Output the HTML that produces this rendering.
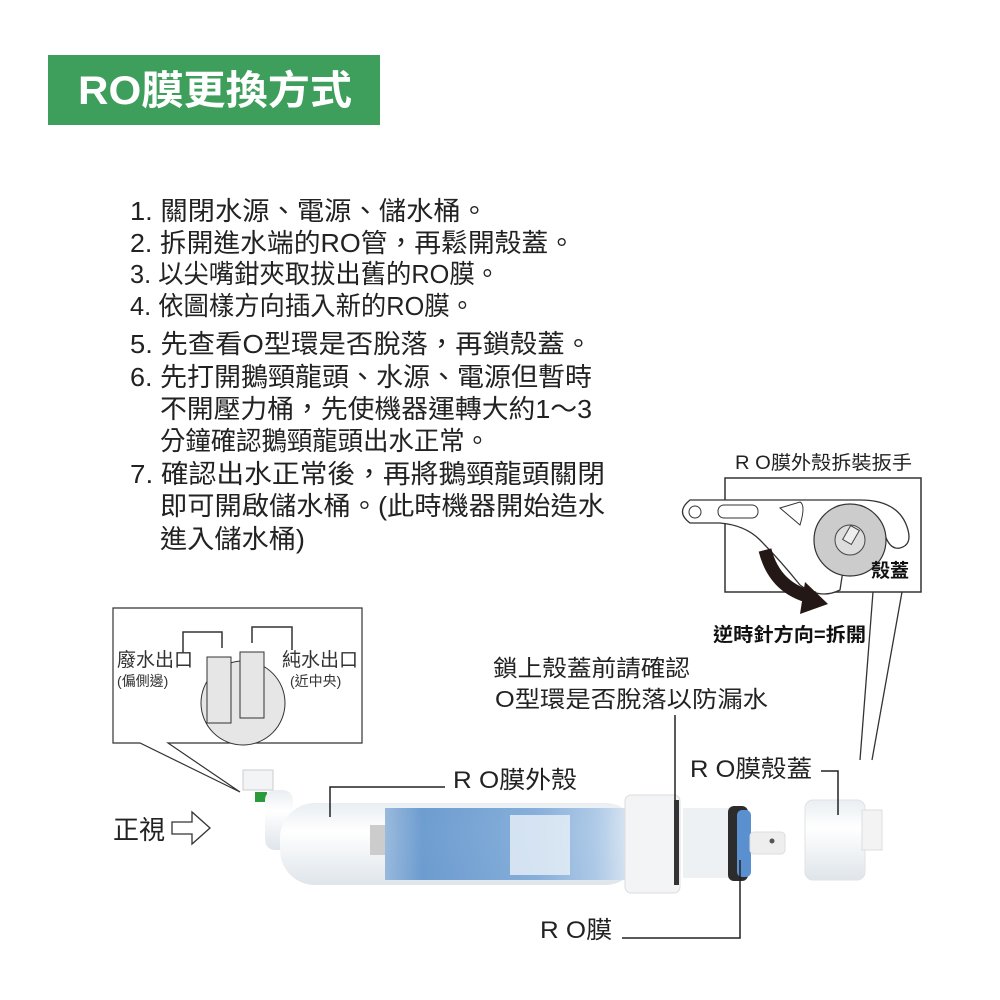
<!DOCTYPE html>
<html><head><meta charset="utf-8"><style>
body{margin:0;background:#fff;}
svg{display:block}
text{font-family:"Liberation Sans","Noto Sans CJK TC",sans-serif;}
</style></head><body>
<svg width="1000" height="1000" viewBox="0 0 1000 1000" xmlns="http://www.w3.org/2000/svg">
<defs>
<linearGradient id="tube" x1="0" y1="0" x2="0" y2="1">
<stop offset="0" stop-color="#e9eef2"/><stop offset="0.35" stop-color="#ffffff"/><stop offset="1" stop-color="#dfe5ea"/></linearGradient>
<linearGradient id="blue" x1="0" y1="0" x2="1" y2="0">
<stop offset="0" stop-color="#8fb3d9"/><stop offset="0.15" stop-color="#5f93cc"/><stop offset="0.6" stop-color="#7aa7d6"/><stop offset="0.85" stop-color="#a9c6e6"/><stop offset="1" stop-color="#dfe9f3"/></linearGradient>
</defs>
<rect x="48" y="55" width="332" height="70" fill="#3e9e5c"/>
<text x="78" y="104" font-size="40" fill="#fff" font-weight="bold" textLength="274" lengthAdjust="spacingAndGlyphs">RO膜更換方式</text>
<g font-size="26" fill="#222" lengthAdjust="spacingAndGlyphs">
<text x="130" y="220" textLength="358" lengthAdjust="spacingAndGlyphs">1. 關閉水源、電源、儲水桶。</text>
<text x="130" y="252" textLength="445" lengthAdjust="spacingAndGlyphs">2. 拆開進水端的RO管，再鬆開殼蓋。</text>
<text x="130" y="283" textLength="370" lengthAdjust="spacingAndGlyphs">3. 以尖嘴鉗夾取拔出舊的RO膜。</text>
<text x="130" y="315" textLength="345" lengthAdjust="spacingAndGlyphs">4. 依圖樣方向插入新的RO膜。</text>
<text x="130" y="353" textLength="462" lengthAdjust="spacingAndGlyphs">5. 先查看O型環是否脫落，再鎖殼蓋。</text>
<text x="130" y="386" textLength="462" lengthAdjust="spacingAndGlyphs">6. 先打開鵝頸龍頭、水源、電源但暫時</text>
<text x="160" y="418" textLength="432" lengthAdjust="spacingAndGlyphs">不開壓力桶，先使機器運轉大約1～3</text>
<text x="160" y="450" textLength="330" lengthAdjust="spacingAndGlyphs">分鐘確認鵝頸龍頭出水正常。</text>
<text x="130" y="483" textLength="475" lengthAdjust="spacingAndGlyphs">7. 確認出水正常後，再將鵝頸龍頭關閉</text>
<text x="160" y="515" textLength="445" lengthAdjust="spacingAndGlyphs">即可開啟儲水桶。(此時機器開始造水</text>
<text x="160" y="548" textLength="145" lengthAdjust="spacingAndGlyphs">進入儲水桶)</text>
</g>
<!-- wrench box -->
<text x="735" y="469" font-size="19" fill="#222" textLength="177" lengthAdjust="spacingAndGlyphs">R O膜外殼拆裝扳手</text>
<rect x="725" y="478" width="196" height="114" fill="#fff" stroke="#333" stroke-width="1.5"/>
<path d="M690 500 L860 500 Q900 500 908 530 Q912 545 900 548 Q890 550 885 535 Q870 520 850 525 L840 590 Q820 600 800 585 Q780 560 760 540 Q745 525 720 523 L690 523 Q675 512 690 500 Z" fill="#fff" stroke="#333" stroke-width="1.3"/>
<circle cx="695" cy="512" r="6" fill="none" stroke="#333"/>
<rect x="718" y="505" width="40" height="13" rx="6" fill="none" stroke="#333"/>
<path d="M780 508 L800 502 Q806 505 800 525 Z" fill="none" stroke="#333"/>
<circle cx="850" cy="540" r="36" fill="#ccc" stroke="#333" stroke-width="1.2"/>
<circle cx="850" cy="540" r="15" fill="#ddd" stroke="#444"/>
<rect x="846" y="527" width="10" height="16" fill="#eee" stroke="#444" transform="rotate(30 851 535)"/>
<text x="871" y="577" font-size="19" fill="#111" font-weight="bold">殼蓋</text>
<path d="M765 550 Q775 590 815 598" stroke="#231815" stroke-width="13" fill="none"/>
<polygon points="805,582 828,604 800,614" fill="#231815"/>
<text x="713" y="641" font-size="19" fill="#111" font-weight="bold" textLength="153" lengthAdjust="spacingAndGlyphs">逆時針方向=拆開</text>
<line x1="873" y1="592" x2="860" y2="760" stroke="#333" stroke-width="1.3"/>
<line x1="902" y1="592" x2="872" y2="760" stroke="#333" stroke-width="1.3"/>
<!-- front view box -->
<path d="M113 608 L362 608 L362 743 L168 743 L240 792 L140 743 L113 743 Z" fill="#fff" stroke="#333" stroke-width="1.2"/>
<circle cx="243" cy="703" r="42" fill="#e6e6e6" stroke="#333"/>
<rect x="207" y="657" width="24" height="66" fill="#e6e6e6" stroke="#333"/>
<rect x="240" y="652" width="24" height="66" fill="#e6e6e6" stroke="#333"/>
<path d="M183 653 V632 H222 V648 M252 643 V627 H292 V650" fill="none" stroke="#333" stroke-width="1.5"/>
<text x="117" y="666" font-size="19" fill="#333">廢水出口</text>
<text x="117" y="686" font-size="14" fill="#333">(偏側邊)</text>
<text x="282" y="666" font-size="19" fill="#333">純水出口</text>
<text x="290" y="686" font-size="14" fill="#333">(近中央)</text>
<text x="113" y="839" font-size="26" fill="#222">正視</text>
<path d="M172 822 H192 V812 L210 828 L192 844 V834 H172 Z" fill="#fff" stroke="#333" stroke-width="1.3"/>
<!-- housing -->
<rect x="243" y="770" width="30" height="20" fill="#f2f4f5" stroke="#ccc"/>
<rect x="255" y="792" width="12" height="10" fill="#2a9a3a"/>
<rect x="265" y="790" width="28" height="60" rx="10" fill="url(#tube)"/>
<rect x="280" y="803" width="360" height="82" rx="35" fill="url(#tube)"/>
<rect x="370" y="825" width="15" height="30" fill="#ccc"/>
<rect x="385" y="808" width="250" height="72" fill="url(#blue)" opacity="0.9"/>
<rect x="510" y="815" width="60" height="60" fill="#e9f0f7" opacity="0.8"/>
<rect x="625" y="795" width="55" height="98" rx="6" fill="#f2f4f6" stroke="#ddd"/>
<rect x="674" y="800" width="5" height="85" fill="#333"/>
<rect x="683" y="808" width="50" height="70" fill="#eef1f3"/>
<rect x="728" y="806" width="20" height="75" rx="6" fill="#2c2c2c"/>
<rect x="737" y="810" width="14" height="67" rx="5" fill="#5a8fd0"/>
<rect x="750" y="832" width="35" height="22" rx="4" fill="#eee" stroke="#ddd"/>
<circle cx="772" cy="841" r="2.5" fill="#555"/>
<rect x="805" y="800" width="60" height="80" rx="8" fill="url(#tube)" stroke="#e2e2e2"/>
<rect x="862" y="810" width="20" height="40" fill="#f3f3f3" stroke="#ddd"/>
<!-- callouts -->
<g fill="none" stroke="#222" stroke-width="1.5">
<path d="M330 817 V787 H445"/>
<path d="M675 715 V800"/>
<path d="M821 771 H838 V815"/>
<path d="M740 860 V938 H622"/>
</g>
<text x="453" y="788" font-size="24" fill="#222" textLength="124" lengthAdjust="spacingAndGlyphs">R O膜外殼</text>
<text x="690" y="777" font-size="24" fill="#222" textLength="122" lengthAdjust="spacingAndGlyphs">R O膜殼蓋</text>
<text x="540" y="938" font-size="24" fill="#222" textLength="72" lengthAdjust="spacingAndGlyphs">R O膜</text>
<text x="493" y="676" font-size="23" fill="#222" textLength="197" lengthAdjust="spacingAndGlyphs">鎖上殼蓋前請確認</text>
<text x="495" y="707" font-size="23" fill="#222" textLength="273" lengthAdjust="spacingAndGlyphs">O型環是否脫落以防漏水</text>
</svg>
</body></html>
